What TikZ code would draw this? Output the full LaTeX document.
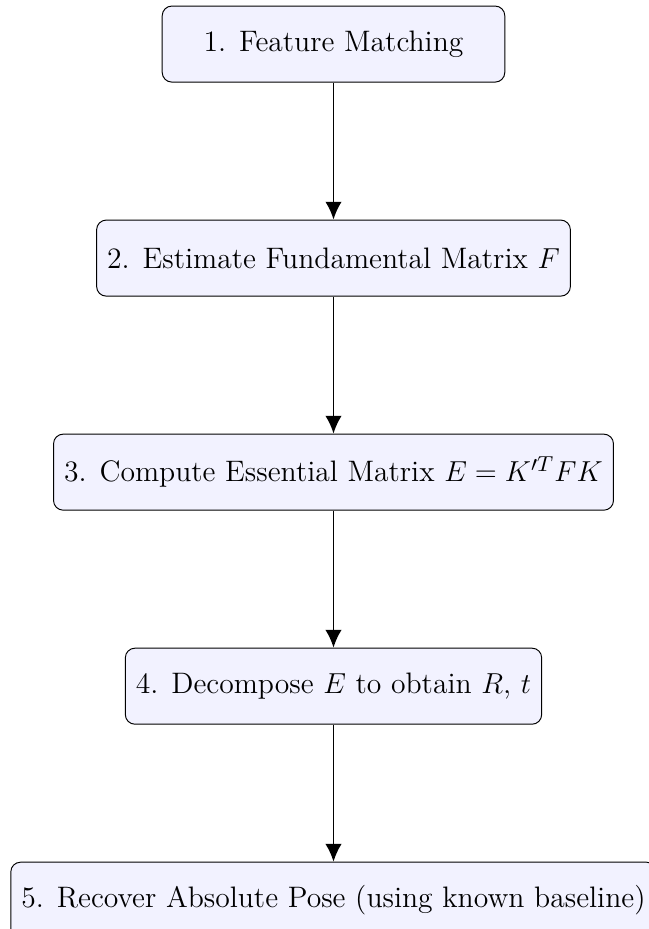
\documentclass[tikz,border=0pt]{standalone}
\usetikzlibrary{positioning,arrows.meta}
\begin{document}
\begin{tikzpicture}[
  stepbox/.style={draw, rounded corners, fill=blue!5, minimum width=5cm, minimum height=1.11cm, inner sep=4.4pt, align=center, font=\fontsize{12.3}{15}\selectfont},
  conn/.style={-{Latex[length=2.6mm,width=2.4mm]}, thick},
  node distance=2cm
]
\useasboundingbox (-138.5pt,18.3pt) rectangle (131pt,-367.5pt);
\node[stepbox] (s1) at (0,0) {1. Feature Matching};
\node[stepbox, below=of s1] (s2) {2. Estimate Fundamental Matrix $F$};
\node[stepbox, below=of s2] (s3) {3. Compute Essential Matrix $E = K'^T F K$};
\node[stepbox, below=of s3] (s4) {4. Decompose $E$ to obtain $R$, $t$};
\node[stepbox, below=of s4] (s5) {5. Recover Absolute Pose (using known baseline)};
\draw[conn] (s1) -- (s2);
\draw[conn] (s2) -- (s3);
\draw[conn] (s3) -- (s4);
\draw[conn] (s4) -- (s5);
\end{tikzpicture}
\end{document}
